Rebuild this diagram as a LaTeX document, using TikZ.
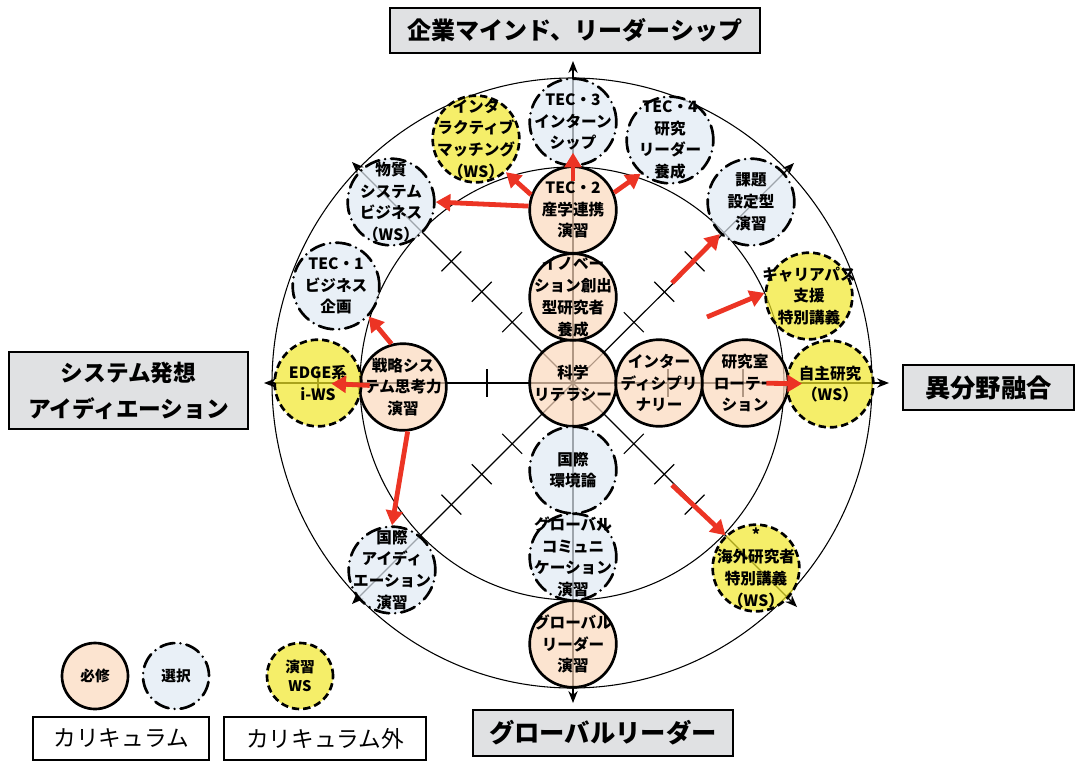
\documentclass[tikz,border=0pt]{standalone}
\usepackage{fontspec}
\newfontfamily\jp{Noto Sans CJK JP}
\usetikzlibrary{arrows.meta}
\definecolor{reqfill}{RGB}{251,216,188}
\definecolor{optfill}{RGB}{224,234,244}
\definecolor{wsfill}{RGB}{241,231,41}
\definecolor{boxgrey}{RGB}{224,225,227}
\definecolor{redc}{RGB}{236,52,36}
\newcommand\mkcrs[5]{\node[#1] (#2) at (#3,#4) {};\node[ctext] (#2-t) at (#3,#4) {#5};}
\tikzset{
  ring/.style={draw=black, line width=0.8pt},
  axis/.style={draw=black, line width=0.9pt},
  axtip/.style={-{Stealth[length=9pt,width=7pt]}},
  tickmark/.style={draw=black, line width=0.9pt},
  cbase/.style={circle, minimum size=65pt, inner sep=0pt, line width=2pt, draw=black, fill opacity=0.7, text opacity=1},
  reqc/.style={cbase, fill=reqfill},
  optc/.style={cbase, fill=optfill, dash pattern=on 11pt off 4.5pt on 0pt off 4.5pt, line cap=round},
  wsc/.style={cbase, fill=wsfill, dash pattern=on 5.5pt off 3pt},
  legc/.style={minimum size=49.5pt},
  ctext/.style={align=center, inner sep=0pt, font=\jp\bfseries\fontsize{11.7}{16.3}\selectfont},
  ltext/.style={align=center, inner sep=0pt, font=\jp\bfseries\fontsize{11}{14.5}\selectfont},
  titlebox/.style={draw=black, fill=boxgrey, line width=1pt, inner sep=0pt, align=center, font=\jp\bfseries\fontsize{18}{26}\selectfont},
  legbox/.style={draw=black, fill=white, line width=1pt, inner sep=0pt, align=center, font=\jp\fontsize{17}{20}\selectfont},
  redarr/.style={draw=redc, line width=3.6pt, -{Triangle[length=11pt,width=12.5pt]}}
}
\begin{document}
\begin{tikzpicture}[x=0.75pt,y=-0.75pt]
\useasboundingbox (0,0) rectangle (1080,764);

% rings
\draw[ring] (572,383) ellipse [x radius=225pt, y radius=228.75pt];
\draw[ring] (572,383.5) ellipse [x radius=159pt, y radius=162.4pt];

% axes
\coordinate (C) at (573,383);
\coordinate (axW) at (264,383);
\coordinate (axE) at (889,383);
\coordinate (axN) at (573,61);
\coordinate (axS) at (573,703);
\coordinate (dNW) at (352,162);
\coordinate (dNE) at (794,163);
\coordinate (dSW) at (352,604);
\coordinate (dSE) at (797,607);
\draw[axis,{Stealth[length=9pt,width=7pt]}-{Stealth[length=9pt,width=7pt]}] (axW) -- (axE);
\draw[axis,{Stealth[length=9pt,width=7pt]}-{Stealth[length=9pt,width=7pt]}] (axN) -- (axS);
\draw[axis,axtip] (C) -- (dNW);
\draw[axis,axtip] (C) -- (dNE);
\draw[axis,axtip] (C) -- (dSW);
\draw[axis,axtip] (C) -- (dSE);

% ticks on diagonals
\foreach \sx/\sy in {1/1,1/-1,-1/1,-1/-1}{
  \foreach \s in {86,129,172}{
    \pgfmathsetmacro\px{573+\s*\sx*0.7071}
    \pgfmathsetmacro\py{383+\s*\sy*0.7071}
    \pgfmathsetmacro\ax{\px-14*\sy*0.7071}
    \pgfmathsetmacro\ay{\py+14*\sx*0.7071}
    \pgfmathsetmacro\bx{\px+14*\sy*0.7071}
    \pgfmathsetmacro\by{\py-14*\sx*0.7071}
    \draw[tickmark] (\ax,\ay) -- (\bx,\by);
  }
}
% ticks on horizontal axis
\foreach \tx in {318,487,668,743}{
  \draw[tickmark] (\tx,369) -- (\tx,397);
}

% course circles
\mkcrs{reqc}{kagaku}{573}{383}{科学\\リテラシー}
\mkcrs{reqc}{inov}{573}{297}{イノベー\\ション創出\\型研究者\\養成}
\mkcrs{reqc}{tec2}{573}{210}{TEC・2\\産学連携\\演習}
\mkcrs{optc}{tec3}{573}{122}{TEC・3\\インターン\\シップ}
\mkcrs{optc}{tec4}{670}{140}{TEC・4\\研究\\リーダー\\養成}
\mkcrs{optc}{kadai}{751}{202}{課題\\設定型\\演習}
\mkcrs{wsc}{career}{809}{296}{キャリアパス\\支援\\特別講義}
\mkcrs{wsc}{jishu}{830}{384}{自主研究\\（WS）}
\mkcrs{reqc}{kenkyu}{745}{383}{研究室\\ローテー\\ション}
\mkcrs{reqc}{inter}{659}{383}{インター\\ディシプリ\\ナリー}
\mkcrs{wsc}{kaigai}{756}{568}{*\\海外研究者\\特別講義\\（WS）}
\mkcrs{optc}{kankyo}{573}{470}{国際\\環境論}
\mkcrs{optc}{gcomm}{573}{557}{グローバル\\コミュニ\\ケーション\\演習}
\mkcrs{reqc}{gcl}{573}{644}{グローバル\\リーダー\\演習}
\mkcrs{optc}{ideation}{392}{570}{国際\\アイディ\\エーション\\演習}
\mkcrs{reqc}{senryaku}{403}{387}{戦略シス\\テム思考力\\演習}
\mkcrs{wsc}{edge}{318}{383}{EDGE系\\i-WS}
\mkcrs{optc}{tec1}{336}{286}{TEC・1\\ビジネス\\企画}
\mkcrs{optc}{busshitsu}{391}{202}{物質\\システム\\ビジネス\\（WS）}
\mkcrs{wsc}{interactive}{476}{139}{インタ\\ラクティブ\\マッチング\\（WS）}

% red arrows
\coordinate (r5) at (672,283);
\coordinate (r6) at (707,317);
\coordinate (r11) at (672,485);
\draw[redarr] (tec2.175) -- (busshitsu.east);
\draw[redarr] (tec2.160) -- (interactive.-48);
\draw[redarr, shorten <=22pt, shorten >=23pt] (tec2.center) -- (tec3.center);
\draw[redarr] (tec2.23) -- (tec4.-131);
\draw[redarr] (r5) -- (kadai.226);
\draw[redarr] (r6) -- (career.176);
\draw[redarr, shorten <=16pt, shorten >=21pt] (kenkyu.center) -- (jishu.center);
\draw[redarr] (senryaku.105) -- (tec1.-43);
\draw[redarr, shorten <=25pt, shorten >=10pt] (senryaku.center) -- (edge.center);
\draw[redarr] (senryaku.-84) -- (ideation.north);
\draw[redarr] (r11) -- (kaigai.133);

% title boxes
\node[titlebox, minimum width=277.5pt, minimum height=33.75pt] (tN) at (575,30.5) {企業マインド、リーダーシップ};
\node[titlebox, minimum width=179.25pt, minimum height=57.75pt, font=\jp\bfseries\fontsize{17}{27}\selectfont] (tW) at (128.5,390.5) {システム発想\\アイディエーション};
\node[titlebox, minimum width=128.25pt, minimum height=33.75pt, font=\jp\bfseries\fontsize{19}{24}\selectfont] (tE) at (988.5,387.5) {異分野融合};
\node[titlebox, minimum width=195pt, minimum height=34.5pt, font=\jp\bfseries\fontsize{19}{24}\selectfont] (tS) at (603,733) {グローバルリーダー};

% legend
\node[reqc, legc] (lreq) at (95,676) {};
\node[ltext] (lreq-t) at (95,676) {必修};
\node[optc, legc] (lopt) at (176,676) {};
\node[ltext] (lopt-t) at (176,676) {選択};
\node[wsc, legc] (lws) at (300,676) {};
\node[ltext] (lws-t) at (300,676) {演習\\WS};
\node[legbox, minimum width=132pt, minimum height=32.25pt] (lb1) at (121,738.5) {カリキュラム};
\node[legbox, minimum width=151.5pt, minimum height=32.25pt] (lb2) at (325,738.5) {カリキュラム外};
\end{tikzpicture}
\end{document}
